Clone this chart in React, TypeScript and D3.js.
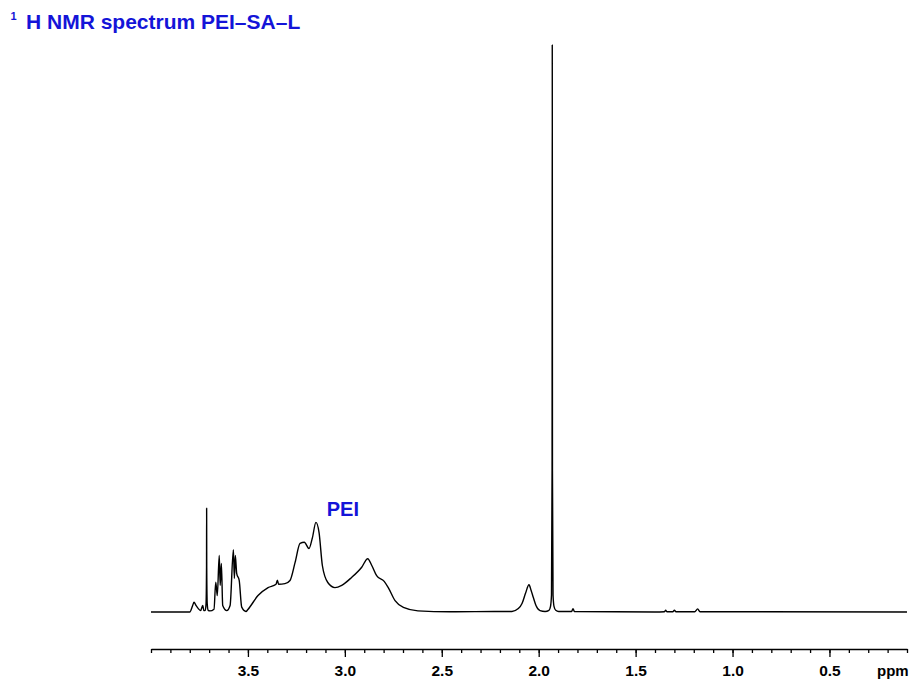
import React, { useEffect, useRef } from "react";
import * as d3 from "d3";

// chemical shift (ppm) and intensity (tallest peak = 100)
const ppmValues = [
  4.0, 3.8, 3.785, 3.778, 3.768, 3.756, 3.744, 3.733, 3.727,
  3.72, 3.716, 3.7135, 3.713, 3.7125, 3.71, 3.705, 3.696, 3.675,
  3.666, 3.658, 3.648, 3.643, 3.637, 3.63, 3.609, 3.592,
  3.575, 3.57, 3.565, 3.558, 3.545, 3.532, 3.51,
  3.5, 3.448, 3.396, 3.355, 3.348, 3.342, 3.309, 3.283, 3.257, 3.231, 3.209,
  3.185, 3.168, 3.149, 3.133, 3.116, 3.088, 3.051, 3.016, 2.965, 2.913,
  2.882, 2.861, 2.836, 2.797, 2.776, 2.741, 2.698, 2.623, 2.458, 2.2,
  2.138, 2.105, 2.086, 2.068, 2.05, 2.039, 2.028, 2.014, 1.993, 1.967,
  1.947, 1.939, 1.934, 1.931, 1.93, 1.929, 1.926, 1.921, 1.912, 1.897,
  1.83, 1.823, 1.816, 1.4, 1.352, 1.345, 1.338, 1.308, 1.3, 1.292,
  1.195, 1.18, 1.168, 0.1,
];
const intensityValues = [
  0, 0, 1.15, 1.73, 1.15, 0.6, 0.25, 1.15, 0.25,
  0.3, 1.5, 8, 18.3, 8, 1.5, 0.3, 0.2, 0.5,
  5.26, 2.9, 9.97, 4.7, 8.56, 1.15, 0.25, 1.15,
  11.0, 5.9, 9.97, 6.8, 5.56, 0.85, 0.1,
  0.45, 2.9, 4.3, 4.9, 5.6, 4.9, 5.0, 5.56, 8.7, 12.1, 12.3,
  11.2, 13.0, 15.8, 14.0, 8.2, 5.2, 4.3, 4.7, 6.1, 7.9,
  9.4, 8.2, 6.4, 5.4, 4.3, 2.0, 0.8, 0.2, 0.05, 0.1,
  0.1, 0.6, 1.5, 3.3, 4.8, 3.8, 2.6, 1.15, 0.25, 0.1,
  0.3, 1.0, 3, 25, 100, 25, 3, 1.0, 0.3, 0.1,
  0.1, 0.6, 0.1, 0, 0.05, 0.3, 0.05, 0.05, 0.3, 0.05,
  0.05, 0.55, 0.05, 0,
];
const majorTicks = [3.5, 3.0, 2.5, 2.0, 1.5, 1.0, 0.5];
const titleText = "H NMR spectrum PEI\u2013SA\u2013L";
const peakLabel = { text: "PEI", ppm: 3.01 };

const BLUE = "#1414d8";
const FONT = "'Liberation Sans', Arial, sans-serif";

function App() {
  const ref = useRef<SVGSVGElement>(null);

  useEffect(() => {
    const svg = d3.select(ref.current);
    svg.selectAll("*").remove();

    const width = 909;
    const height = 684;

    const x = d3.scaleLinear().domain([4.0, 0.1]).range([151, 907]);
    const y = d3.scaleLinear().domain([0, 100]).range([612, 45]);

    svg.append("rect").attr("width", width).attr("height", height).attr("fill", "#fff");

    // title
    svg.append("text")
      .attr("x", 10.5).attr("y", 20)
      .attr("font-family", FONT).attr("font-weight", "bold").attr("font-size", 11)
      .attr("fill", BLUE).text("1");
    svg.append("text")
      .attr("x", 26).attr("y", 29)
      .attr("font-family", FONT).attr("font-weight", "bold").attr("font-size", 21)
      .attr("fill", BLUE).text(titleText);

    // spectrum
    const points = ppmValues.map((p, i) => [p, intensityValues[i]] as [number, number]);
    const line = d3.line<[number, number]>()
      .x((d) => x(d[0]))
      .y((d) => y(d[1]))
      .curve(d3.curveMonotoneX);

    svg.append("path")
      .datum(points)
      .attr("fill", "none")
      .attr("stroke", "#000")
      .attr("stroke-width", 1.4)
      .attr("stroke-linejoin", "round")
      .attr("d", line);

    svg.append("text")
      .attr("x", x(peakLabel.ppm)).attr("y", 516)
      .attr("text-anchor", "middle")
      .attr("font-family", FONT).attr("font-weight", "bold").attr("font-size", 20)
      .attr("fill", BLUE).text(peakLabel.text);

    // axis
    const axisY = 649;
    const minorTicks = d3.range(1, 41).map((d) => d / 10);

    const minor = svg.append("g")
      .attr("transform", `translate(0,${axisY})`)
      .call(d3.axisBottom(x).tickValues(minorTicks).tickSize(4).tickSizeOuter(0).tickFormat(() => ""));
    minor.selectAll("line").attr("stroke", "#000").attr("stroke-width", 1.3);
    minor.select(".domain").attr("stroke", "#000").attr("stroke-width", 1.3);

    const major = svg.append("g")
      .attr("transform", `translate(0,${axisY})`)
      .call(d3.axisBottom(x).tickValues(majorTicks).tickSize(8).tickPadding(8).tickSizeOuter(0).tickFormat(d3.format(".1f")));
    major.select(".domain").remove();
    major.selectAll("line").attr("stroke", "#000").attr("stroke-width", 1.3);
    major.selectAll("text")
      .attr("font-family", FONT).attr("font-weight", "bold").attr("font-size", 15.5)
      .attr("fill", "#000");

    svg.append("text")
      .attr("x", 877).attr("y", 676)
      .attr("font-family", FONT).attr("font-weight", "bold").attr("font-size", 15)
      .attr("fill", "#000").text("ppm");
  }, []);

  return (
    <svg
      ref={ref}
      width={909}
      height={684}
      style={{ position: "absolute", left: 0, top: 0 }}
    />
  );
}

export default App;
